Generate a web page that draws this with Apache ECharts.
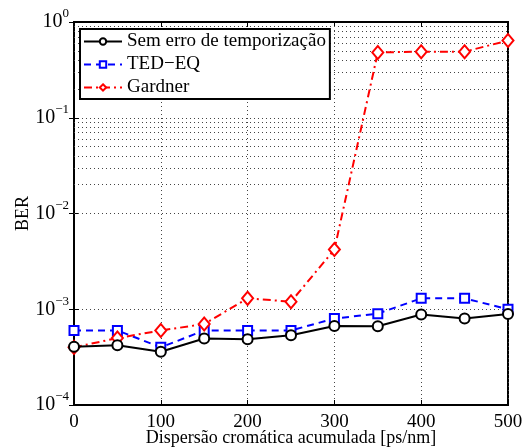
<!DOCTYPE html>
<html>
<head>
<meta charset="utf-8">
<script src="https://cdn.jsdelivr.net/npm/echarts@6/dist/echarts.min.js"></script>
<style>
  html, body { margin: 0; padding: 0; background: #fff; }
  #chart { width: 530px; height: 448px; }
</style>
</head>
<body>
<div id="chart"></div>
<script>
// Accumulated chromatic dispersion [ps/nm]
var dispersion = [0, 50, 100, 150, 200, 250, 300, 350, 400, 450, 500];

// BER for each timing-recovery scheme
var berSemErro = [4.05e-4, 4.2e-4, 3.6e-4, 4.95e-4, 4.85e-4, 5.35e-4, 6.7e-4, 6.65e-4, 8.8e-4, 8.0e-4, 8.9e-4];
var berTedEq   = [6.0e-4, 6.0e-4, 4.0e-4, 6.0e-4, 6.0e-4, 6.0e-4, 8.0e-4, 9.0e-4, 1.3e-3, 1.3e-3, 1.0e-3];
var berGardner = [4.0e-4, 5.0e-4, 6.0e-4, 7.0e-4, 1.3e-3, 1.2e-3, 4.2e-3, 0.48, 0.49, 0.49, 0.64];

var seriesNames = ['Sem erro de temporização', 'TED\u2212EQ', 'Gardner'];

// Minor grid levels (2..9 x 10^k) for the log axis
var minorLevels = [];
[1e-4, 1e-3, 1e-2, 1e-1].forEach(function (d) {
  for (var m = 2; m <= 9; m++) minorLevels.push(+(m * d).toPrecision(3));
});

function pairs(ys) {
  return dispersion.map(function (x, i) { return [x, ys[i]]; });
}

var font = 'Liberation Serif';
var dotted = { color: '#444', width: 1, type: [1, 3] };

var chart = echarts.init(document.getElementById('chart'), null, { renderer: 'canvas' });

chart.setOption({
  backgroundColor: '#fff',
  animation: false,
  textStyle: { fontFamily: font, color: '#000' },
  grid: {
    left: 74, right: 22, top: 22, bottom: 43,
    outerBoundsMode: 'none', containLabel: false,
    show: true, borderColor: '#000', borderWidth: 2, backgroundColor: 'transparent'
  },
  legend: {
    orient: 'vertical',
    left: 80, top: 29,
    padding: [3, 4, 2, 3],
    itemGap: 4,
    itemWidth: 38, itemHeight: 8,
    backgroundColor: '#fff',
    borderColor: '#000', borderWidth: 2,
    textStyle: { fontFamily: font, fontSize: 19, color: '#000' },
    data: seriesNames
  },
  xAxis: [{
    type: 'value', min: 0, max: 500, interval: 100,
    name: 'Dispersão cromática acumulada [ps/nm]',
    nameLocation: 'middle', nameGap: 24, nameMoveOverlap: false,
    nameTextStyle: { fontFamily: font, fontSize: 18, color: '#000' },
    axisLine: { show: true, lineStyle: { color: '#000', width: 2 } },
    axisTick: { inside: true, length: 5, lineStyle: { color: '#000' } },
    axisLabel: { fontFamily: font, fontSize: 19, color: '#000', margin: 8 },
    splitLine: { show: true, lineStyle: dotted }
  }, {
    type: 'value', min: 0, max: 500, interval: 100, position: 'top',
    axisLine: { show: true, lineStyle: { color: '#000', width: 2 } },
    axisTick: { inside: true, length: 5, lineStyle: { color: '#000' } },
    axisLabel: { show: false }, splitLine: { show: false }
  }],
  yAxis: [{
    type: 'log', logBase: 10, min: 1e-4, max: 1,
    name: 'BER', nameLocation: 'middle', nameGap: 42, nameMoveOverlap: false,
    nameTextStyle: { fontFamily: font, fontSize: 18, color: '#000' },
    axisLine: { show: true, lineStyle: { color: '#000', width: 2 } },
    axisTick: { inside: true, length: 5, lineStyle: { color: '#000' } },
    axisLabel: {
      margin: 5,
      formatter: function (v) {
        var e = Math.round(Math.log10(v));
        return '{b|10}{s|' + (e < 0 ? '\u2212' + (-e) : e) + '}';
      },
      rich: {
        b: { fontFamily: font, fontSize: 20, color: '#000' },
        s: { fontFamily: font, fontSize: 13, color: '#000', padding: [0, 0, 16, 0] }
      }
    },
    splitLine: { show: true, lineStyle: dotted }
  }, {
    type: 'log', logBase: 10, min: 1e-4, max: 1, position: 'right',
    axisLine: { show: true, lineStyle: { color: '#000', width: 2 } },
    axisTick: { inside: true, length: 5, lineStyle: { color: '#000' } },
    axisLabel: { show: false }, splitLine: { show: false }
  }],
  series: [{
    name: seriesNames[0], type: 'line', data: pairs(berSemErro),
    symbol: 'emptyCircle', symbolSize: 10, z: 4,
    itemStyle: { color: '#000', borderWidth: 2 },
    lineStyle: { color: '#000', width: 2, type: 'solid' },
    markLine: {
      silent: true, symbol: 'none', animation: false, z: 1,
      label: { show: false },
      lineStyle: dotted,
      emphasis: { disabled: true },
      data: minorLevels.map(function (v) { return { yAxis: v }; })
    }
  }, {
    name: seriesNames[1], type: 'line', data: pairs(berTedEq),
    symbol: 'emptyRect', symbolSize: 9, z: 3,
    itemStyle: { color: '#0000ff', borderWidth: 2 },
    lineStyle: { color: '#0000ff', width: 2, type: [7, 5] }
  }, {
    name: seriesNames[2], type: 'line', data: pairs(berGardner),
    symbol: 'emptyDiamond', symbolSize: [11, 13], z: 3,
    itemStyle: { color: '#ff0000', borderWidth: 2 },
    lineStyle: { color: '#ff0000', width: 2, type: [8, 4, 2, 4] }
  }]
});
</script>
</body>
</html>
